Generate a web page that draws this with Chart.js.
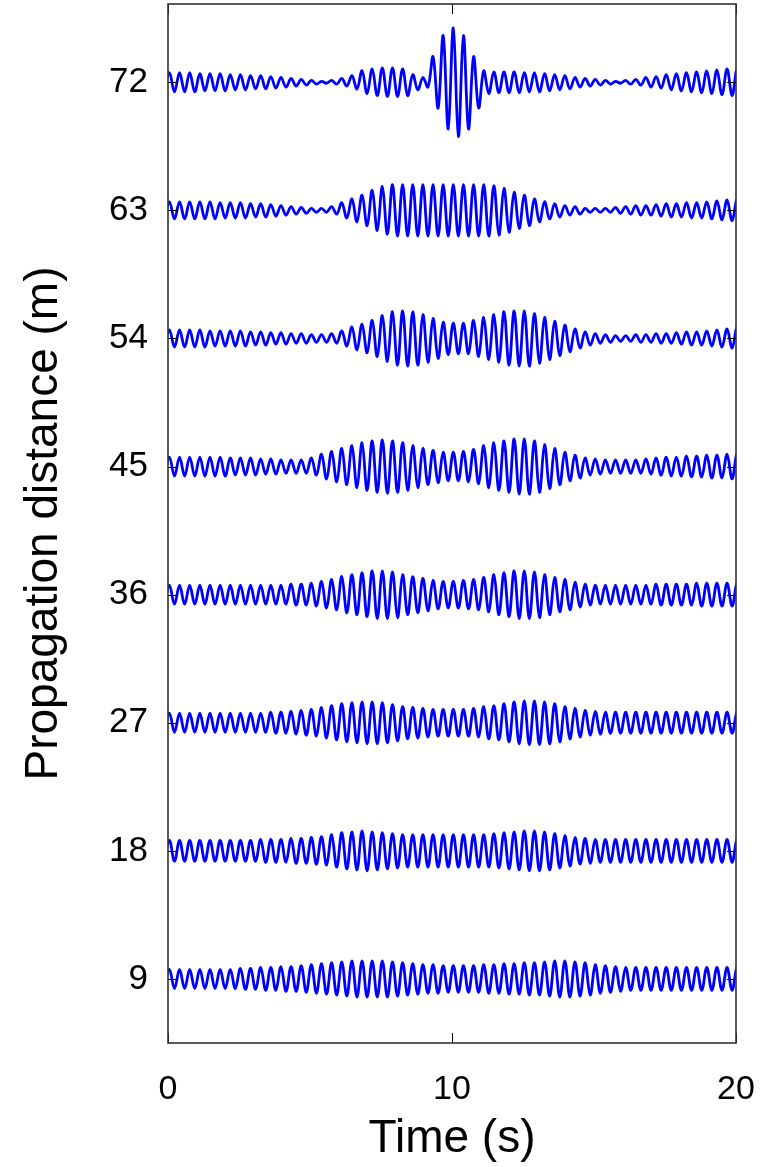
<!DOCTYPE html>
<html>
<head>
<meta charset="utf-8">
<script src="https://cdn.jsdelivr.net/npm/chart.js@4.4.0/dist/chart.umd.min.js"></script>
<style>
  html, body { margin: 0; padding: 0; background: #ffffff; }
  #wrap { width: 760px; height: 1167px; }
</style>
</head>
<body>
<div id="wrap"><canvas id="chart" width="760" height="1167"></canvas></div>
<script>
// Wave gauge positions along the flume (m) and the time axis ticks (s)
const distances = [9, 18, 27, 36, 45, 54, 63, 72];
const timeTicks = [0, 10, 20];

// Carrier wave: period of one wave (s) and time of the first crest (s)
const wavePeriod = 0.357;
const firstCrest = 0.05;

// Height of each successive wave crest (mm), one list per gauge
const amp9  = [10,10,10,10,10,10,10,11,11,12, 12,13,13,14,15,16,17,18,19,19, 19,19,18,17,16,15,15,14,14,14, 14,15,15,16,16,17,17,18,19,19, 18,17,15,14,13,12,12,12,12,12, 12,12,12,12,12,12,12];
const amp18 = [11,11,11,11,11,11,11,11,11,12, 12,12,13,13,14,15,17,19,20,21, 20,19,18,17,17,17,17,17,17,17, 17,17,18,19,20,21,21,20,18,16, 14,13,12,12,12,12,12,12,12,12, 12,12,12,12,12,12,12];
const amp27 = [10,10,10,10,10,10,10,10,10,10, 11,11,12,13,14,16,18,20,21,22, 22,21,19,17,16,15,14,14,14,14, 15,17,18,20,22,23,23,22,20,17, 15,13,12,11,11,11,11,11,11,11, 11,11,11,11,11,11,11];
const amp36 = [10,10,10,10,10,10,10,10,10,10, 10,10,11,11,12,14,16,19,21,23, 25,25,24,21,19,17,15,14,14,15, 16,18,21,23,25,25,24,21,18,16, 13,11,10,10,10,10,10,10,11,11, 11,11,12,12,12,12,12];
const amp45 = [10,10,10,10,10,10,9,9,9,8, 8,7,7,7,9,13,16,19,22,25, 27,28,27,25,22,19,17,15,15,16, 18,22,25,27,29,29,27,23,19,15, 12,9,8,7,7,7,7,8,9,10, 10,11,11,12,12,13,14];
const amp54 = [9,9,9,9,8,8,8,8,7,7, 6,6,5,5,4,4,5,8,12,15, 19,24,28,29,28,25,21,17,16,16, 19,22,25,28,29,29,26,22,18,14, 10,7,5,4,3,3,4,4,5,5, 6,7,7,8,9,10,12];
const amp63 = [9,9,9,9,9,8,8,8,7,7, 6,5,4,3,2,2,4,8,12,16, 21,25,27,27,27,27,27,27,27,27, 27,27,26,23,19,16,12,9,7,5, 4,2,2,2,3,4,5,5,6,7, 7,8,8,9,10,11,12];
const amp72 = [10,10,10,9,9,9,8,8,7,7, 6,5,4,3,2,1,2,4,7,12, 14,15,15,14,8,5,27,49,57,49, 27,12,11,11,11,10,10,9,8,7, 5,4,3,2,1,2,3,5,6,8, 9,10,11,12,13,14,14];

// Vertical gain: metres of the distance axis per mm of surface elevation
const traceGain = 0.067;

const amplitudes = [amp9, amp18, amp27, amp36, amp45, amp54, amp63, amp72];

// Each trace is drawn through its crests and troughs, offset to its gauge position
function traceData(offset, amps) {
  const pts = [{ x: firstCrest - wavePeriod / 2, y: offset - traceGain * amps[0] }];
  amps.forEach((a, k) => {
    const tc = firstCrest + k * wavePeriod;
    pts.push({ x: tc, y: offset + traceGain * a });
    pts.push({ x: tc + wavePeriod / 2, y: offset - traceGain * a });
  });
  return pts;
}

const datasets = distances.map((d, i) => ({
  label: d + ' m',
  data: traceData(d, amplitudes[i]),
  borderColor: '#0000ff',
  borderWidth: 2.8,
  pointRadius: 0,
  tension: 0.37,
  fill: false
}));

// Box around the plot area with inward tick marks on all four sides
const framePlugin = {
  id: 'frame',
  afterDatasetsDraw(chart) {
    const { ctx, chartArea: a, scales: { x, y } } = chart;
    ctx.save();
    ctx.strokeStyle = '#000000';
    ctx.lineWidth = 1;
    ctx.beginPath();
    x.ticks.forEach(t => {
      const px = Math.round(x.getPixelForValue(t.value)) + 0.5;
      ctx.moveTo(px, a.bottom); ctx.lineTo(px, a.bottom - 10);
      ctx.moveTo(px, a.top); ctx.lineTo(px, a.top + 10);
    });
    y.ticks.forEach(t => {
      const py = Math.round(y.getPixelForValue(t.value)) + 0.5;
      ctx.moveTo(a.left, py); ctx.lineTo(a.left + 9, py);
      ctx.moveTo(a.right, py); ctx.lineTo(a.right - 9, py);
    });
    ctx.stroke();
    ctx.strokeStyle = '#333333';
    ctx.lineWidth = 1.6;
    ctx.strokeRect(a.left, a.top, a.right - a.left, a.bottom - a.top);
    ctx.restore();
  }
};

const fontFamily = '"Liberation Sans", Arial, Helvetica, sans-serif';

new Chart(document.getElementById('chart'), {
  type: 'line',
  data: { datasets },
  options: {
    responsive: false,
    animation: false,
    events: [],
    layout: { padding: { left: 0, right: 24, top: 4, bottom: 0 } },
    plugins: { legend: { display: false }, tooltip: { enabled: false } },
    scales: {
      x: {
        type: 'linear',
        min: 0,
        max: 20,
        afterBuildTicks: s => { s.ticks = timeTicks.map(v => ({ value: v })); },
        afterFit: s => { s.height = 124; s.paddingLeft = 0; s.paddingRight = 0; },
        grid: { display: false, drawTicks: false },
        border: { display: false },
        ticks: { padding: 26, color: '#000000', maxRotation: 0, font: { family: fontFamily, size: 34 } },
        title: { display: true, text: 'Time (s)', color: '#000000', padding: { top: 0, bottom: 0 }, font: { family: fontFamily, size: 46 } }
      },
      y: {
        type: 'linear',
        min: 4.5,
        max: 77.5,
        afterBuildTicks: s => { s.ticks = distances.map(v => ({ value: v })); },
        afterFit: s => { s.width = 168; s.paddingTop = 0; s.paddingBottom = 0; },
        grid: { display: false, drawTicks: false },
        border: { display: false },
        ticks: { padding: 20, color: '#000000', font: { family: fontFamily, size: 35 } },
        title: { display: true, text: 'Propagation distance (m)', color: '#000000', padding: { top: 17, bottom: 0 }, font: { family: fontFamily, size: 46 } }
      }
    }
  },
  plugins: [framePlugin]
});
</script>
</body>
</html>
